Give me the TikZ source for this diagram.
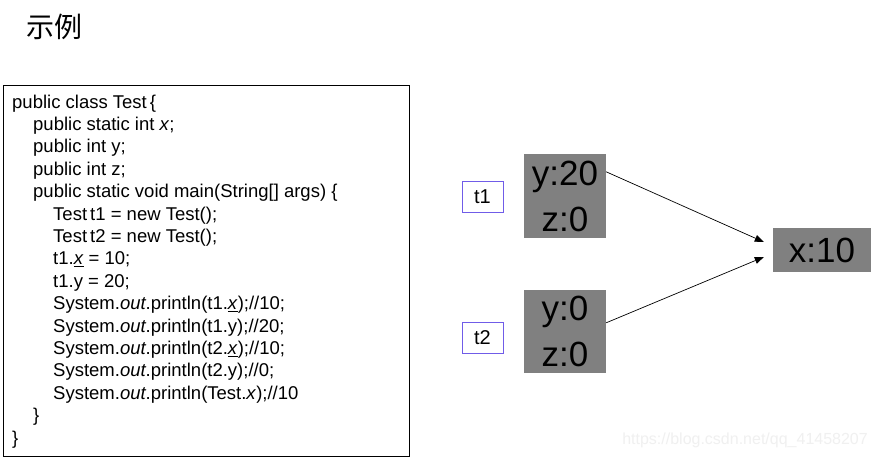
\documentclass[tikz,border=0pt]{standalone}
\usepackage{fontspec}
\setmainfont{Liberation Sans}
\newfontfamily\cjk{Noto Sans CJK SC}
\usetikzlibrary{arrows.meta}
\definecolor{boxgray}{RGB}{128,128,128}
\definecolor{tborder}{RGB}{112,92,232}
\definecolor{wmark}{RGB}{240,240,240}
\begin{document}
\begin{tikzpicture}[x=1pt,y=-1pt,
  codeline/.style={anchor=base west,inner sep=0pt,font=\fontsize{18.5}{22}\selectfont},
  graybox/.style={fill=boxgray,draw=none,minimum width=82pt,align=center,inner sep=0pt,font=\fontsize{35}{46}\selectfont},
  refbox/.style={draw=tborder,line width=0.8pt,minimum width=41pt,minimum height=31pt,inner sep=0pt,font=\fontsize{20}{20}\selectfont},
  ptr/.style={line width=0.7pt,-{Triangle[length=9pt,width=7pt]}}]
\useasboundingbox (0,0) rectangle (878,460);
\fill[white] (0,0) rectangle (878,460);
% title
\node[anchor=west,inner sep=0pt,font=\cjk\fontsize{28}{28}\selectfont] (title) at (26,27) {示例};
% code box
\node[draw,line width=1pt,anchor=north west,minimum width=406pt,minimum height=371pt,inner sep=0pt] (codebox) at (3,84.5) {};
\node[codeline] (l1) at (12,108) {public class Test\,\{};
\node[codeline] (l2) at (33,130.4) {public static int \textit{x};};
\node[codeline] (l3) at (33,152.8) {public int y;};
\node[codeline] (l4) at (33,175.2) {public int z;};
\node[codeline] (l5) at (33,197.6) {public static void main(String[] args) \{};
\node[codeline] (l6) at (53,220) {Test\,t1 = new Test();};
\node[codeline] (l7) at (53,242.4) {Test\,t2 = new Test();};
\node[codeline] (l8) at (53,264.8) {t1.\underline{\textit{x}} = 10;};
\node[codeline] (l9) at (53,287.2) {t1.y = 20;};
\node[codeline] (l10) at (53,309.6) {System.\textit{out}.println(t1.\underline{\textit{x}});//10;};
\node[codeline] (l11) at (53,332) {System.\textit{out}.println(t1.y);//20;};
\node[codeline] (l12) at (53,354.4) {System.\textit{out}.println(t2.\underline{\textit{x}});//10;};
\node[codeline] (l13) at (53,376.8) {System.\textit{out}.println(t2.y);//0;};
\node[codeline] (l14) at (53,399.2) {System.\textit{out}.println(Test.\textit{x});//10};
\node[codeline] (l15) at (33,421.6) {\}};
\node[codeline] (l16) at (12,444) {\}};
% references
\node[refbox] (t1) at (482.5,196.5) {t1};
\node[refbox] (t2) at (482.5,338) {t2};
% objects
\node[graybox,minimum height=84pt] (o1) at (565,196) {y:20\\z:0};
\node[graybox,minimum height=83pt] (o2) at (565,331.5) {y:0\\z:0};
\node[graybox,minimum width=98pt,minimum height=44pt] (sx) at (822,250) {x:10};
% pointers
\draw[ptr] ([yshift=-18pt]o1.north east) -- ([xshift=-9pt,yshift=8pt]sx.west);
\draw[ptr] ([yshift=-33pt]o2.north east) -- ([xshift=-9pt,yshift=-7pt]sx.west);
% watermark
\node[anchor=east,inner sep=0pt,text=wmark,font=\fontsize{16}{16}\selectfont] (wm) at (868,440) {https://blog.csdn.net/qq\_41458207};
\end{tikzpicture}
\end{document}
